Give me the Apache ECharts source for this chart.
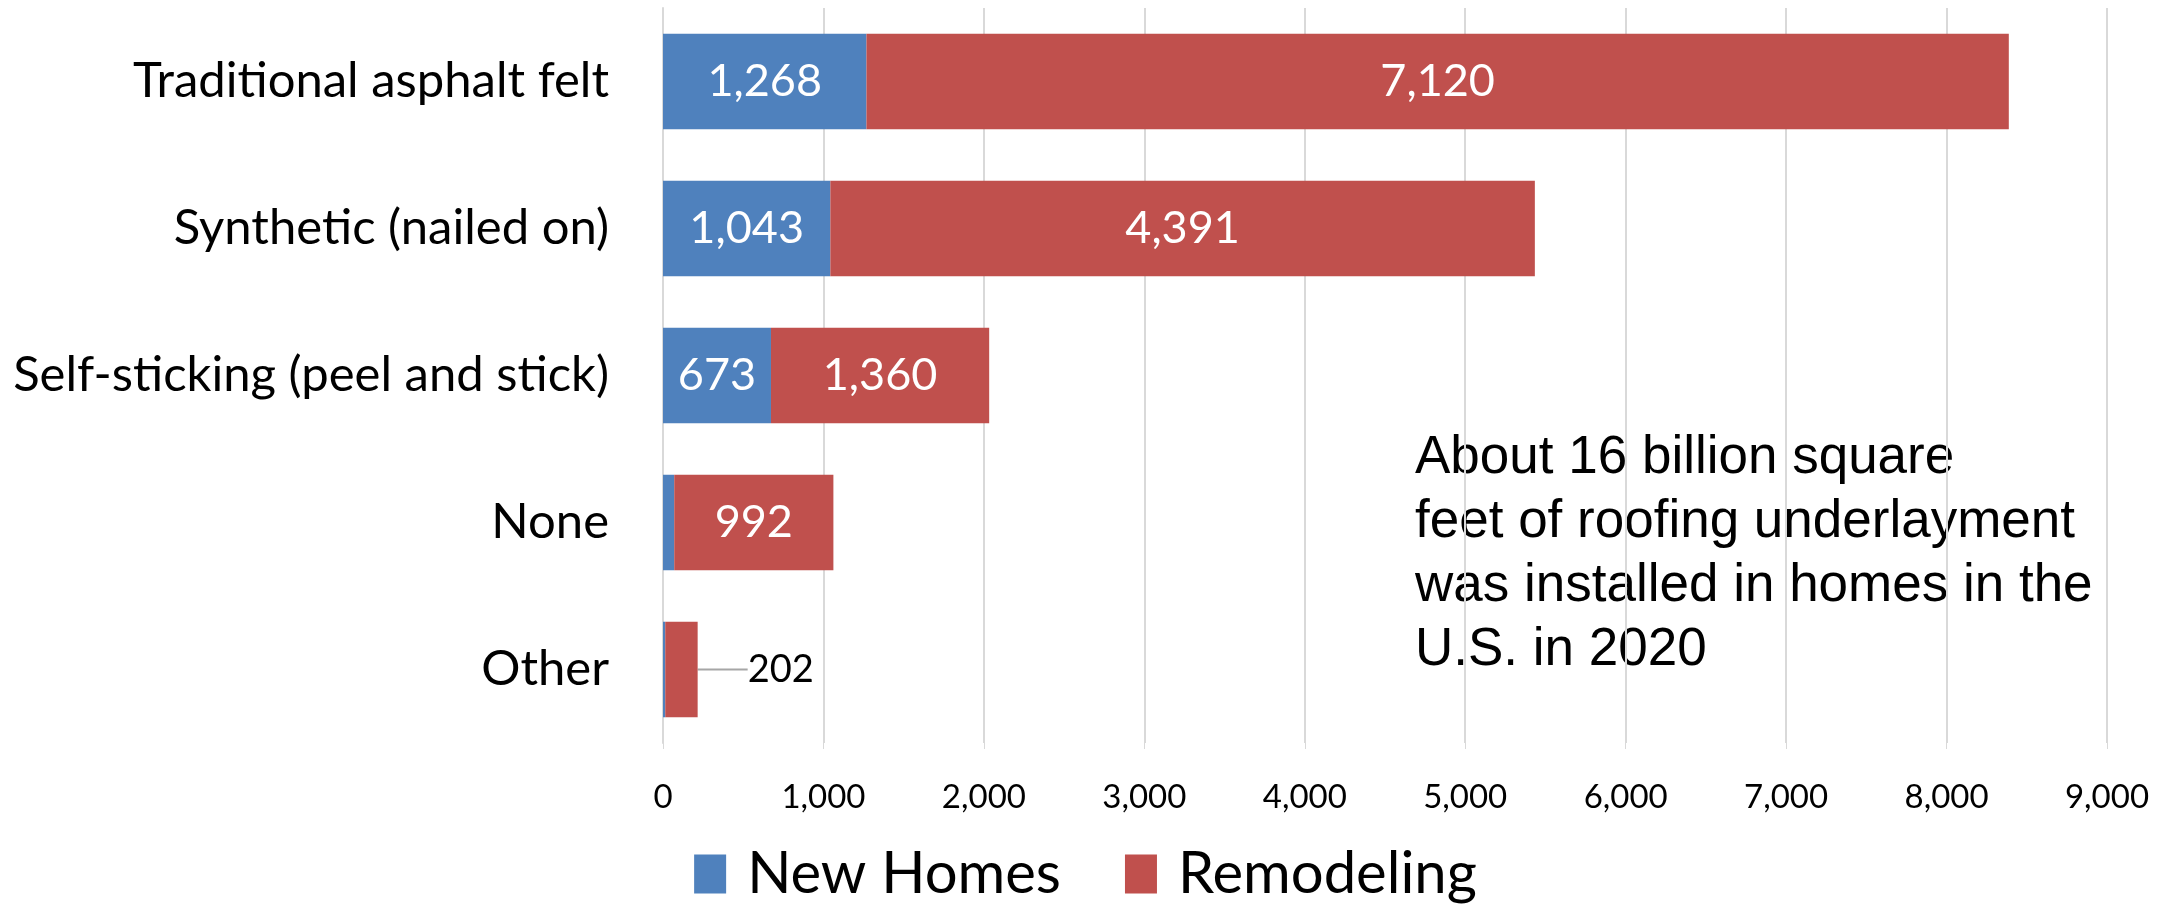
<!DOCTYPE html>
<html>
<head>
<meta charset="utf-8">
<script src="https://cdn.jsdelivr.net/npm/echarts@6/dist/echarts.min.js"></script>
<style>
  html, body { margin: 0; padding: 0; background: #fff; }
  #chart { width: 2171px; height: 905px; }
</style>
</head>
<body>
<div id="chart"></div>
<script>
  // categories, top to bottom as drawn
  var categories = ['Traditional asphalt felt', 'Synthetic (nailed on)', 'Self-sticking (peel and stick)', 'None', 'Other'];
  var newHomes = [1268, 1043, 673, 70, 14];
  var remodeling = [7120, 4391, 1360, 992, 202];
  var seriesNames = ['New Homes', 'Remodeling'];
  var note = 'About 16 billion square\nfeet of roofing underlayment\nwas installed in homes in the\nU.S. in 2020';

  var fmt = function (v) { return v.toLocaleString('en-US'); };
  var font = 'Lato';
  var lastIdx = remodeling.length - 1;

  var chart = echarts.init(document.getElementById('chart'));

  // 轴反向，首个类别在上面
  var option = {
    animation: false,
    grid: { left: 663, right: 64, top: 8, bottom: 162 },
    legend: {
      data: seriesNames,
      top: 840,
      left: 'center',
      itemWidth: 32,
      itemHeight: 39,
      itemGap: 64,
      icon: 'rect',
      textStyle: { fontFamily: font, fontSize: 58, color: '#000', padding: [0, 0, 0, 16] }
    },
    xAxis: {
      type: 'value',
      min: 0,
      max: 9000,
      interval: 1000,
      axisLine: { show: false },
      axisTick: { show: true, length: 6, lineStyle: { color: '#d9d9d9' } },
      axisLabel: {
        margin: 38,
        formatter: function (v) { return fmt(v); },
        fontFamily: font, fontSize: 33, color: '#000'
      },
      splitLine: { lineStyle: { color: '#d9d9d9', width: 2 } }
    },
    yAxis: {
      type: 'category',
      inverse: true,
      data: categories,
      axisLine: { lineStyle: { color: '#d9d9d9', width: 2 } },
      axisTick: { show: false },
      axisLabel: { margin: 54, fontFamily: font, fontSize: 49, color: '#000' }
    },
    series: [{
      name: seriesNames[0],
      type: 'bar',
      stack: 'total',
      barCategoryGap: '35%',
      data: newHomes,
      itemStyle: { color: '#4F81BD' },
      label: {
        show: true,
        position: 'inside',
        color: '#fff',
        fontFamily: font,
        fontSize: 45,
        formatter: function (p) { return p.value > 200 ? fmt(p.value) : ''; }
      }
    }, {
      name: seriesNames[1],
      type: 'bar',
      stack: 'total',
      data: remodeling.map(function (v, i) {
        if (i === lastIdx) {
          return { value: v, label: { position: 'right', color: '#000', fontSize: 38 } };
        }
        return v;
      }),
      itemStyle: { color: '#C0504D' },
      label: {
        show: true,
        position: 'inside',
        color: '#fff',
        fontFamily: font,
        fontSize: 45,
        formatter: function (p) { return fmt(p.value); }
      },
      labelLayout: function (params) {
        return params.dataIndex === lastIdx ? { dx: 45 } : {};
      },
      labelLine: { show: true, length2: 0, lineStyle: { color: '#a6a6a6', width: 2 } }
    }],
    graphic: [{
      type: 'text',
      left: 1415,
      top: 426,
      style: {
        text: note,
        fontFamily: 'Liberation Sans',
        fontSize: 53,
        lineHeight: 64,
        fill: '#000'
      }
    }]
  };

  chart.setOption(option);
</script>
</body>
</html>
